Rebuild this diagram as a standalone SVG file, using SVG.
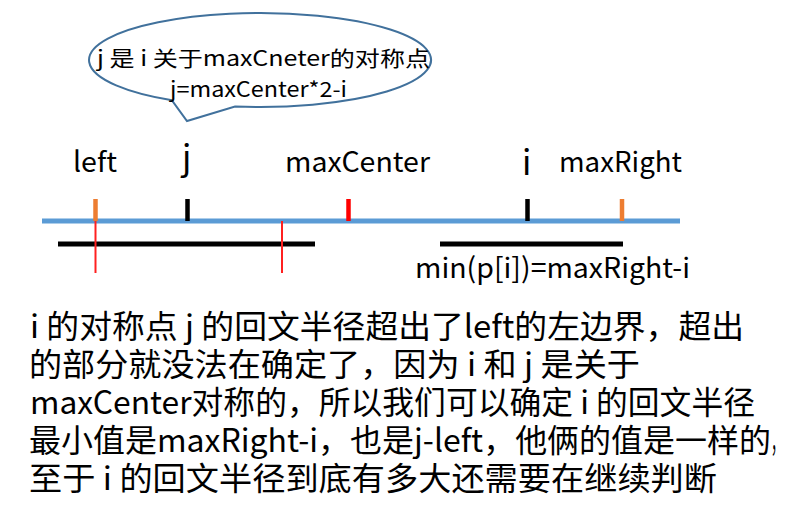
<svg xmlns="http://www.w3.org/2000/svg" width="788" height="509" viewBox="0 0 788 509">
  <style>
    text { font-family: "Noto Sans CJK SC", "Open Sans", sans-serif; fill: #000; }
    .lbl { font-size: 28px; }
    .big { font-size: 34px; }
    .para { font-size: 32px; }
    .call { font-size: 21px; }
    .tick { stroke-width: 4.5; }
    .bar { stroke: #000; stroke-width: 5; }
    .red { stroke: #FF2020; stroke-width: 2; }
  </style>
  <rect width="788" height="509" fill="#fff"/>

  <g id="callout">
    <path d="M 235 106.5 A 171 47 0 1 0 172 100.3 L 187 121 Z" fill="#fff" stroke="#41719C" stroke-width="2"/>
    <text class="call" x="97" y="66" textLength="333" lengthAdjust="spacingAndGlyphs">j 是 i 关于maxCneter的对称点</text>
    <text class="call" x="170" y="97" textLength="177" lengthAdjust="spacingAndGlyphs">j=maxCenter*2-i</text>
  </g>

  <g id="axis">
    <line x1="42" y1="221" x2="680" y2="221" stroke="#5B9BD5" stroke-width="5"/>
  </g>

  <g id="ticks">
    <line class="tick" x1="95.5" y1="199" x2="95.5" y2="221" stroke="#ED7D31"/>
    <line class="tick" x1="187.5" y1="199" x2="187.5" y2="221" stroke="#000"/>
    <line class="tick" x1="348.5" y1="199" x2="348.5" y2="221" stroke="#FF0000"/>
    <line class="tick" x1="527.5" y1="199" x2="527.5" y2="221" stroke="#000"/>
    <line class="tick" x1="622" y1="199" x2="622" y2="221" stroke="#ED7D31"/>
  </g>

  <g id="labels">
    <text class="lbl" x="73" y="172" textLength="44" lengthAdjust="spacingAndGlyphs">left</text>
    <text class="big" x="182" y="170">j</text>
    <text class="lbl" x="285" y="172" textLength="145" lengthAdjust="spacingAndGlyphs">maxCenter</text>
    <text class="big" x="522" y="175">i</text>
    <text class="lbl" x="559" y="172" textLength="123" lengthAdjust="spacingAndGlyphs">maxRight</text>
  </g>

  <g id="segments">
    <line class="bar" x1="58" y1="244" x2="315" y2="244"/>
    <line class="bar" x1="440" y1="244" x2="623" y2="244"/>
    <line class="red" x1="95.5" y1="221" x2="95.5" y2="273"/>
    <line class="red" x1="282" y1="221" x2="282" y2="273"/>
    <text class="lbl" x="415" y="278" textLength="275" lengthAdjust="spacingAndGlyphs">min(p[i])=maxRight-i</text>
  </g>

  <g id="paragraph">
    <text class="para" x="30" y="338" textLength="714" lengthAdjust="spacingAndGlyphs">i 的对称点 j 的回文半径超出了left的左边界，超出</text>
    <text class="para" x="29" y="376" textLength="611" lengthAdjust="spacingAndGlyphs">的部分就没法在确定了，因为 i 和 j 是关于</text>
    <text class="para" x="30" y="414" textLength="725" lengthAdjust="spacingAndGlyphs">maxCenter对称的，所以我们可以确定 i 的回文半径</text>
    <text class="para" x="29" y="452" textLength="742" lengthAdjust="spacingAndGlyphs">最小值是maxRight-i，也是j-left，他俩的值是一样的</text>
    <text class="para" x="771" y="452" textLength="13" lengthAdjust="spacingAndGlyphs">，</text>
    <text class="para" x="29" y="490" textLength="688" lengthAdjust="spacingAndGlyphs">至于 i 的回文半径到底有多大还需要在继续判断</text>
  </g>
</svg>
